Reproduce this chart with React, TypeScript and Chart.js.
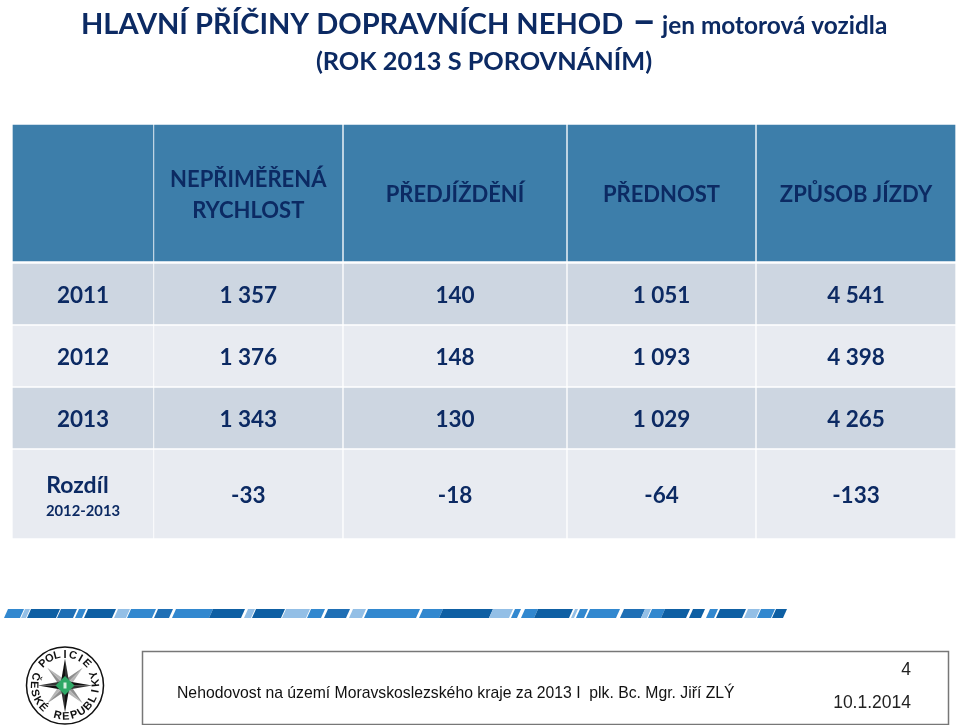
import React, { useEffect, useRef } from "react";
import { Chart, registerables } from "chart.js";

Chart.register(...registerables);

const titleMain = "HLAVNÍ PŘÍČINY DOPRAVNÍCH NEHOD";
const titleDash = "–";
const titleSuffix = "jen motorová vozidla";
const titleSecond = "(ROK 2013 S POROVNÁNÍM)";

const rowLabels = ["2011", "2012", "2013"];
const diffLabel = "Rozdíl";
const diffPeriod = "2012-2013";
const columnHeaders = [["NEPŘIMĚŘENÁ", "RYCHLOST"], ["PŘEDJÍŽDĚNÍ"], ["PŘEDNOST"], ["ZPŮSOB JÍZDY"]];

const speeding = [1357, 1376, 1343, -33];
const overtaking = [140, 148, 130, -18];
const rightOfWay = [1051, 1093, 1029, -64];
const drivingStyle = [4541, 4398, 4265, -133];
const valueColumns = [speeding, overtaking, rightOfWay, drivingStyle];

const footerText = "Nehodovost na území Moravskoslezského kraje za 2013 I  plk. Bc. Mgr. Jiří ZLÝ";
const pageNumber = "4";
const footerDate = "10.1.2014";

const columnEdges = [[13, 153], [154.5, 342], [344, 566], [568, 755], [757, 955]];
const rowEdges = [[125, 261], [264, 324], [326, 386], [388, 448], [450, 538]];
const rowColors = ["#3d7eaa", "#cdd6e1", "#e8ebf1", "#cdd6e1", "#e8ebf1"];
const NAVY = "#0c2a63";

const PALE = "#93bfe6", MID = "#3288cf", DEEP = "#1f6fb5", DARK = "#0e5fa3";
const stripes: [number, number, string][] = [
  [5, 21, MID], [22, 27, PALE], [28, 57, DARK], [58, 74, DEEP], [76, 83, MID], [85, 113, DARK],
  [115, 127, PALE], [128, 153, MID], [155, 170, DEEP], [173, 210, MID], [210, 242, DARK], [245, 252, PALE],
  [253, 282, DARK], [283, 307, PALE], [308, 322, MID], [325, 347, DEEP], [350, 363, PALE], [365, 417, MID],
  [420, 440, MID], [440, 490, DARK], [490, 510, PALE], [512, 518, MID], [522, 535, MID], [535, 570, DARK],
  [572, 575, PALE], [577, 585, MID], [587, 617, MID], [621, 642, DEEP], [642, 648, PALE], [649, 662, MID],
  [662, 687, DARK], [690, 702, DARK], [707, 715, MID], [717, 743, DARK], [745, 757, PALE], [758, 772, MID], [773, 784, DARK],
];

const fmt = (v: number) => {
  if (v < 0) return String(v);
  const s = String(v);
  return s.length > 3 ? s.slice(0, s.length - 3) + " " + s.slice(-3) : s;
};

function drawBadge(ctx: CanvasRenderingContext2D) {
  const cx = 65, cy = 685.5, R = 38.5;
  ctx.save();
  ctx.translate(cx, cy);
  ctx.strokeStyle = "#111111";
  ctx.lineWidth = 1.5;
  ctx.beginPath();
  ctx.arc(0, 0, R, 0, Math.PI * 2);
  ctx.stroke();
  const ray = (ang: number, len: number, w: number, left: string, right: string) => {
    ctx.save();
    ctx.rotate(ang);
    ctx.fillStyle = left;
    ctx.beginPath(); ctx.moveTo(0, -len); ctx.lineTo(-w, -w); ctx.lineTo(0, 0); ctx.closePath(); ctx.fill();
    ctx.fillStyle = right;
    ctx.beginPath(); ctx.moveTo(0, -len); ctx.lineTo(w, -w); ctx.lineTo(0, 0); ctx.closePath(); ctx.fill();
    ctx.restore();
  };
  for (let i = 0; i < 4; i++) ray(Math.PI / 4 + (i * Math.PI) / 2, 25, 4, "#8f8f8f", "#b5b5b5");
  for (let i = 0; i < 4; i++) ray((i * Math.PI) / 2, 27, 4, "#111111", "#333333");
  ctx.fillStyle = "#2fa866";
  ctx.beginPath(); ctx.moveTo(0, -9.5); ctx.lineTo(9.5, 0); ctx.lineTo(0, 9.5); ctx.lineTo(-9.5, 0); ctx.closePath(); ctx.fill();
  ctx.fillStyle = "#d8f0e0";
  ctx.fillRect(-1.5, -3, 3, 6);
  ctx.fillStyle = "#111111";
  ctx.font = "bold 11px 'Liberation Sans'";
  ctx.textAlign = "center";
  ctx.textBaseline = "middle";
  const top = "POLICIE";
  const rText = 31;
  for (let i = 0; i < top.length; i++) {
    const a = -0.78 + (i * 1.56) / (top.length - 1);
    ctx.save(); ctx.rotate(a); ctx.translate(0, -rText); ctx.fillText(top[i], 0, 0); ctx.restore();
  }
  const bottom = "ČESKÉ REPUBLIKY";
  for (let i = 0; i < bottom.length; i++) {
    const a = 1.87 - (i * 3.8) / (bottom.length - 1);
    ctx.save(); ctx.rotate(a); ctx.translate(0, rText); ctx.fillText(bottom[i], 0, 0); ctx.restore();
  }
  ctx.restore();
}

const slidePlugin = {
  id: "slide",
  afterDatasetsDraw(chart: any) {
    const { ctx, scales } = chart;
    const xs = scales.x, ys = scales.y;
    const colCenter = (c: number) => xs.getPixelForValue((columnEdges[c][0] + columnEdges[c][1]) / 2);
    const rowCenter = (r: number) => ys.getPixelForValue((rowEdges[r][0] + rowEdges[r][1]) / 2);
    const text = (t: string, x: number, y: number, font: string, color = NAVY, align: CanvasTextAlign = "center") => {
      ctx.font = font;
      ctx.fillStyle = color;
      ctx.textAlign = align;
      ctx.textBaseline = "alphabetic";
      ctx.fillText(t, x, y);
    };
    ctx.save();
    const bold = (s: number) => `bold ${s}px Lato`;
    text(titleMain, 81, 34, bold(29), NAVY, "left");
    text(titleDash, 632, 35, bold(42), NAVY, "left");
    text(titleSuffix, 662, 34, bold(24.4), NAVY, "left");
    text(titleSecond, 484, 70, bold(25.3), NAVY);

    columnHeaders.forEach((lines, i) => {
      const c = colCenter(i + 1);
      if (lines.length === 2) {
        text(lines[0], c, 187, bold(22));
        text(lines[1], c, 218, bold(22));
      } else {
        text(lines[0], c, 202, bold(22));
      }
    });
    rowLabels.forEach((l, r) => text(l, colCenter(0), rowCenter(r + 1) + 8.5, bold(22.5)));
    text(diffLabel, colCenter(0) - 5.5, 493, bold(23));
    text(diffPeriod, colCenter(0), 516, bold(14.8));
    valueColumns.forEach((vals, c) => {
      vals.forEach((v, r) => {
        const dy = r === 3 ? rowCenter(4) + 8.5 : rowCenter(r + 1) + 8.5;
        text(fmt(v), colCenter(c + 1), dy, bold(22.5));
      });
    });

    // stripe band
    const yTop = ys.getPixelForValue(609), yBot = ys.getPixelForValue(618);
    stripes.forEach(([a, b, col]) => {
      ctx.fillStyle = col;
      ctx.beginPath();
      ctx.moveTo(xs.getPixelForValue(a) + 3, yTop);
      ctx.lineTo(xs.getPixelForValue(b) + 3, yTop);
      ctx.lineTo(xs.getPixelForValue(b) - 1, yBot);
      ctx.lineTo(xs.getPixelForValue(a) - 1, yBot);
      ctx.closePath();
      ctx.fill();
    });

    drawBadge(ctx);

    ctx.strokeStyle = "#777777";
    ctx.lineWidth = 1.5;
    ctx.strokeRect(142.5, 651.5, 806, 73);
    text(footerText, 177, 698, "15.75px 'Liberation Sans'", "#111111", "left");
    text(pageNumber, 911, 675, "17.5px 'Liberation Sans'", "#222222", "right");
    text(footerDate, 911, 708, "17.5px 'Liberation Sans'", "#222222", "right");
    ctx.restore();
  },
};

export default function App() {
  const ref = useRef<HTMLCanvasElement>(null);
  useEffect(() => {
    const datasets = columnEdges.map((edge) => ({
      label: "column",
      data: rowEdges.map((r) => ({ x: (edge[0] + edge[1]) / 2, y: [r[0], r[1]] })),
      backgroundColor: rowColors,
      borderWidth: 0,
      barThickness: edge[1] - edge[0],
      grouped: false,
    }));
    const chart = new Chart(ref.current as HTMLCanvasElement, {
      type: "bar",
      data: { datasets } as any,
      options: {
        animation: false,
        responsive: false,
        layout: { padding: 0 },
        scales: {
          x: { type: "linear", min: 0, max: 960, display: false, offset: false },
          y: { type: "linear", min: 0, max: 725, reverse: true, display: false },
        },
        plugins: { legend: { display: false }, tooltip: { enabled: false }, title: { display: false } },
      },
      plugins: [slidePlugin],
    } as any);
    return () => chart.destroy();
  }, []);
  return (
    <div style={{ position: "absolute", left: 0, top: 0, width: 960, height: 725, background: "#ffffff" }}>
      <canvas ref={ref} width={960} height={725} style={{ display: "block" }} />
    </div>
  );
}
